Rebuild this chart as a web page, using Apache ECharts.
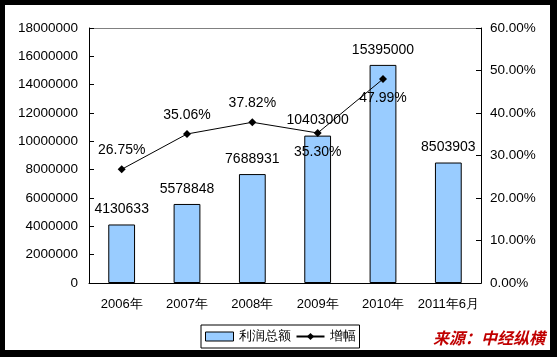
<!DOCTYPE html>
<html><head><meta charset="utf-8">
<script src="https://cdn.jsdelivr.net/npm/echarts@6/dist/echarts.min.js"></script>
<style>html,body{margin:0;padding:0;background:#000;}#c{width:557px;height:357px;}</style>
</head><body><div id="c"></div>
<script>
const categories = ['2006年','2007年','2008年','2009年','2010年','2011年6月'];
const profitTotal = [4130633, 5578848, 7688931, 10403000, 15395000, 8503903];
const growth = [0.2675, 0.3506, 0.3782, 0.3530, 0.4799];
const growthLabelPos = ['top','top','top','bottom','bottom'];
const leftTicks = [0, 18000000, 2000000];
const rightTicks = [0, 0.6, 0.1];

const font = 'Arial, "Liberation Sans", sans-serif';
const chart = echarts.init(document.getElementById('c'), null, {renderer:'canvas'});
chart.setOption({
  backgroundColor: '#000',
  animation: false,
  graphic: [{type:'rect', shape:{x:5,y:5,width:545,height:345}, style:{fill:'#fff'}, z:-10, silent:true},
    {type:'rect', shape:{x:89.5,y:28.5,width:392,height:255}, style:{fill:'none', stroke:'#808080', lineWidth:1}, z:-5, silent:true},
    {type:'text', left:433, top:330, style:{text:'来源：中经纵横', fill:'#c00000', font:'italic bold 16px "Noto Sans CJK SC"'}, z:10}],
  grid: {left:89, right:76, top:28, bottom:74, containLabel:false},
  legend: {
    left: 201, top: 325, itemGap: 5, itemWidth: 28, itemHeight: 9,
    padding: [5, 4, 5, 4],
    borderColor: '#000', borderWidth: 1, backgroundColor:'#fff',
    textStyle: {fontFamily: font, fontSize: 13, color:'#000'},
    data: [{name:'利润总额', icon:'rect', itemStyle:{color:'#99ccff', borderColor:'#000', borderWidth:1}}, {name:'增幅'}]
  },
  xAxis: {
    type:'category', data: categories,
    axisLine:{lineStyle:{color:'#000', width:1}},
    axisTick:{inside:true, length:4, lineStyle:{color:'#000'}},
    axisLabel:{fontFamily:font, fontSize:13, color:'#000', margin:15, interval:0}
  },
  yAxis: [{
    type:'value', min:leftTicks[0], max:leftTicks[1], interval:leftTicks[2],
    axisLine:{show:true, lineStyle:{color:'#000'}},
    axisTick:{show:true, inside:true, length:5, lineStyle:{color:'#000'}},
    splitLine:{show:false},
    axisLabel:{fontFamily:font, fontSize:13.5, color:'#000', margin:11, formatter: v => String(v)}
  },{
    type:'value', min:rightTicks[0], max:rightTicks[1], interval:rightTicks[2],
    axisLine:{show:true, lineStyle:{color:'#000'}},
    axisTick:{show:true, inside:true, length:5, lineStyle:{color:'#000'}},
    splitLine:{show:false},
    axisLabel:{fontFamily:font, fontSize:13.5, color:'#000', margin:9,
      formatter: v => (v*100).toFixed(2)+'%'}
  }],
  series: [{
    name:'利润总额', type:'bar', data: profitTotal, barWidth:'41%',
    itemStyle:{color:'#99ccff', borderColor:'#000', borderWidth:1},
    label:{show:true, position:'top', distance:8, fontFamily:font, fontSize:14, color:'#000'}
  },{
    name:'增幅', type:'line', yAxisIndex:1,
    data: growth.map((v,i)=>({value:v, label:{position:growthLabelPos[i]}})),
    symbol:'diamond', symbolSize:8, itemStyle:{color:'#000'},
    lineStyle:{color:'#000', width:1},
    label:{show:true, distance:8, fontFamily:font, fontSize:14, color:'#000',
      formatter: p => (p.value*100).toFixed(2)+'%'},
    z:5
  }]
});
</script></body></html>
